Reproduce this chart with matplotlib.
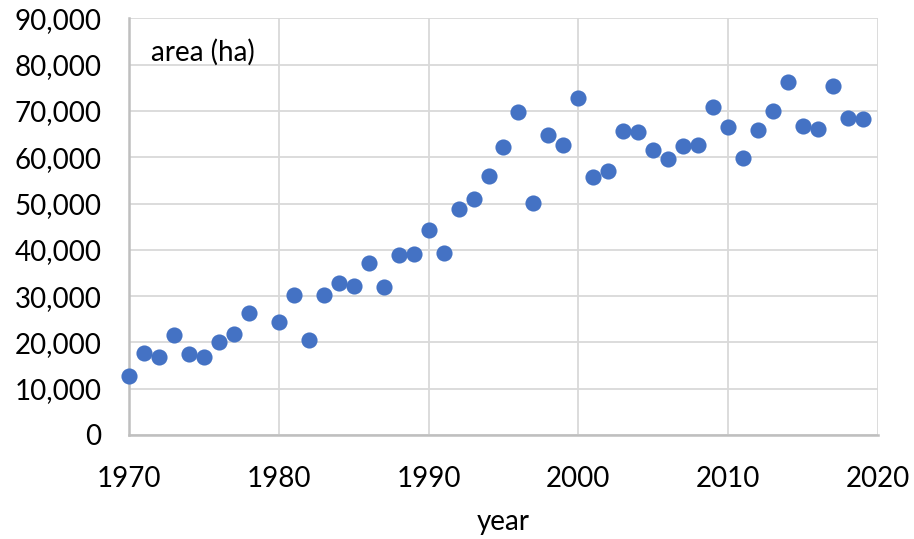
import matplotlib
matplotlib.use("Agg")
import matplotlib.pyplot as plt
from matplotlib.ticker import FuncFormatter, MultipleLocator

years = [1970, 1971, 1972, 1973, 1974, 1975, 1976, 1977, 1978,
         1980, 1981, 1982, 1983, 1984, 1985, 1986, 1987, 1988, 1989,
         1990, 1991, 1992, 1993, 1994, 1995, 1996, 1997, 1998, 1999,
         2000, 2001, 2002, 2003, 2004, 2005, 2006, 2007, 2008, 2009,
         2010, 2011, 2012, 2013, 2014, 2015, 2016, 2017, 2018, 2019]
area = [12800, 17800, 16900, 21600, 17500, 16900, 20000, 21900, 26300,
        24400, 30200, 20500, 30200, 32900, 32200, 37100, 31900, 38800, 39000,
        44300, 39300, 48800, 51000, 56000, 62300, 69900, 50200, 64800, 62600,
        72900, 55700, 57100, 65700, 65400, 61500, 59600, 62400, 62600, 70900,
        66500, 59900, 66000, 70100, 76200, 66800, 66200, 75400, 68400, 68200]

x_ticks = [1970, 1980, 1990, 2000, 2010, 2020]
y_label = "area (ha)"
x_label = "year"

plt.rcParams['font.family'] = ['Lato', 'DejaVu Sans']

fig = plt.figure(figsize=(9.14, 5.39), dpi=100)
ax = fig.add_axes([0.1415, 0.193, 0.9602 - 0.1415, 0.9657 - 0.193])

ax.scatter(years, area, s=135, color='#4472C4', zorder=3, linewidths=0,
           clip_on=False)

ax.set_xlim(1970, 2020)
ax.set_ylim(0, 90000)
ax.set_xticks(x_ticks)
ax.yaxis.set_major_locator(MultipleLocator(10000))
ax.yaxis.set_major_formatter(FuncFormatter(lambda v, p: f"{int(v):,}"))

ax.grid(True, color='#D9D9D9', linewidth=1.3, zorder=0)
ax.set_axisbelow(True)
for s in ['top', 'right']:
    ax.spines[s].set_visible(False)
for s in ['left', 'bottom']:
    ax.spines[s].set_color('#BFBFBF')
    ax.spines[s].set_linewidth(1.8)

ax.tick_params(axis='both', length=0, labelsize=20, colors='#000000')
ax.tick_params(axis='y', pad=20)
ax.tick_params(axis='x', pad=22)

ax.text(0.0295, 0.92, y_label, transform=ax.transAxes, fontsize=20,
        ha='left', va='center')
fig.text(503 / 914, 1 - 530 / 539, x_label, fontsize=20,
         ha='center', va='baseline')

fig.savefig("out.png", dpi=100, facecolor='white')
